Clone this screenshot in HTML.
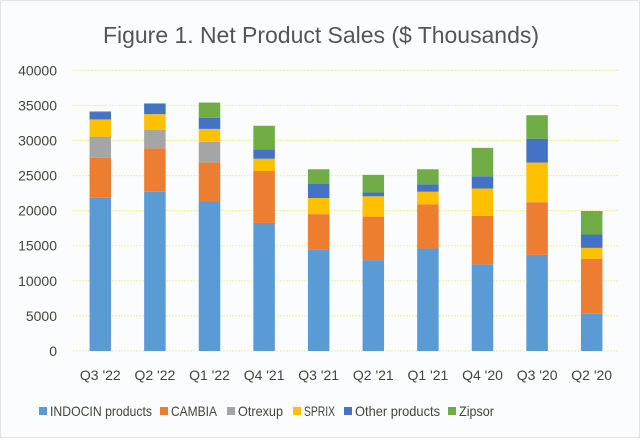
<!DOCTYPE html>
<html><head><meta charset="utf-8"><style>
body{margin:0;background:#fff;}
#wrap{width:640px;height:438px;position:relative;background:#fbfcfe;box-sizing:border-box;border:1px solid #e4e4e4;}
svg text{font-family:"Liberation Sans",sans-serif;fill:#44443c;}
</style></head><body>
<div id="wrap">
<svg id="chart" width="640" height="438">
<text x="320" y="42" font-size="23" text-anchor="middle" textLength="436" style="fill:#555">Figure 1. Net Product Sales ($ Thousands)</text>
</svg>
</div>
<script>
const categories=["Q3 '22","Q2 '22","Q1 '22","Q4 '21","Q3 '21","Q2 '21","Q1 '21","Q4 '20","Q3 '20","Q2 '20"];
const seriesNames=["INDOCIN products","CAMBIA","Otrexup","SPRIX","Other products","Zipsor"];
const indocin=[21850,22700,21300,18250,14400,12950,14600,12350,13700,5300];
const cambia=[5700,6200,5550,7400,5100,6200,6300,6900,7500,7850];
const otrexup=[3000,2600,2950,0,0,0,0,0,0,0];
const sprix=[2450,2250,1850,1750,2300,2900,1800,3900,5650,1550];
const other=[1050,1450,1600,1350,2050,550,1050,1750,3400,1900];
const zipsor=[100,100,2150,3350,2050,2500,2150,4050,3350,3350];
const yTicks=[0,5000,10000,15000,20000,25000,30000,35000,40000];
const colors=["#5b9bd5","#ed7d31","#a5a5a5","#ffc000","#4472c4","#70ad47"];
const series=[indocin,cambia,otrexup,sprix,other,zipsor];
const NS="http://www.w3.org/2000/svg";
const svg=document.getElementById('chart');
const L=72,R=618,T=69.3,B=350;
function y(v){return B-(v/40000)*(B-T);}
const band=(R-L)/categories.length;
function x(i){return L+band*i+band/2;}
const bw=21.5;
function mk(tag,attrs){const e=document.createElementNS(NS,tag);for(const k in attrs)e.setAttribute(k,attrs[k]);svg.appendChild(e);return e;}
yTicks.forEach(t=>{
  const g=mk('line',{x1:L,x2:R,y1:y(t),y2:y(t),stroke:'#f3ec9c','stroke-width':1,'stroke-dasharray':'2,1'});
  
  
  const tx=mk('text',{x:56,y:y(t)+5,'font-size':14,'text-anchor':'end'});
  tx.textContent=t;
  
  
});
categories.forEach((c,i)=>{
  let acc=0;
  series.forEach((s,k)=>{
    const v=s[i];
    if(v>0){
      const r=mk('rect',{x:x(i)-bw/2,y:y(acc+v),width:bw,height:y(acc)-y(acc+v),fill:colors[k]});
      
      
    }
    acc+=v;
  });
  const tx=mk('text',{x:x(i),y:379,'font-size':14,'text-anchor':'middle'});
  tx.textContent=c;
  
  
});
const swX=[38,159,226,292,343,447];
const txW=[102,46,45,31,85,35];
seriesNames.forEach((n,k)=>{
  const r=mk('rect',{x:swX[k],y:406,width:8,height:8,fill:colors[k]});
  
  
  const tx=mk('text',{x:swX[k]+11,y:415,'font-size':14,textLength:txW[k],lengthAdjust:'spacingAndGlyphs'});
  tx.textContent=n;
  
  
});
</script>
</body></html>
